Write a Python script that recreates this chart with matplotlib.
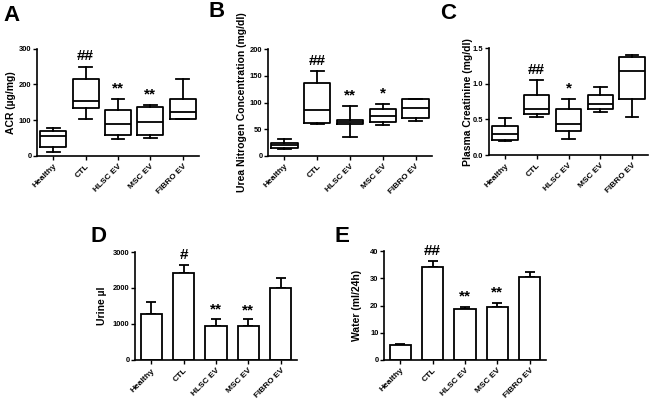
import matplotlib
matplotlib.use("Agg")
import matplotlib.pyplot as plt

plt.rcParams.update({"font.family": ["Liberation Sans", "DejaVu Sans"],
                     "font.weight": "bold", "axes.linewidth": 1.2})

groups = ["Healthy", "CTL", "HLSC EV", "MSC EV", "FIBRO EV"]

# box stats: whisker low, Q1, median, Q3, whisker high
acr_lo = [9, 103, 46, 51, 103]
acr_q1 = [24, 135, 58, 58, 103]
acr_med = [55, 153, 89, 94, 123]
acr_q3 = [69, 215, 128, 136, 158]
acr_hi = [78, 250, 159, 141, 214]

bun_lo = [12.6, 59, 35, 57, 66]
bun_q1 = [15, 62, 59, 64, 70]
bun_med = [19.5, 85, 64, 75, 90]
bun_q3 = [24.4, 137, 68, 87, 107]
bun_hi = [31, 159, 94, 97, 107]

cre_lo = [0.20, 0.53, 0.22, 0.60, 0.54]
cre_q1 = [0.21, 0.58, 0.34, 0.64, 0.79]
cre_med = [0.30, 0.65, 0.43, 0.72, 1.18]
cre_q3 = [0.41, 0.85, 0.64, 0.85, 1.38]
cre_hi = [0.52, 1.05, 0.79, 0.95, 1.40]

urine_mean = [1270, 2410, 940, 940, 2000]
urine_err = [350, 240, 210, 190, 290]

water_mean = [5.4, 34.1, 18.6, 19.3, 30.5]
water_err = [0.5, 2.2, 1.0, 1.7, 1.7]

acr_marks = ["", "##", "**", "**", ""]
bun_marks = ["", "##", "**", "*", ""]
cre_marks = ["", "##", "*", "", ""]
urine_marks = ["", "#", "**", "**", ""]
water_marks = ["", "##", "**", "**", ""]

W, H = 656, 401
fig = plt.figure(figsize=(W / 100, H / 100), dpi=100)


def add_axes(left, top, right, bottom):
    return fig.add_axes([left / W, 1 - bottom / H, (right - left) / W, (bottom - top) / H])


def style(ax, ymax, yticks, ylabel, letter, lx, ly, labx):
    ax.set_xlim(-0.5, 4.5)
    ax.set_ylim(0, ymax)
    ax.set_yticks(yticks)
    ax.set_xticks(range(5))
    ax.set_xticklabels(groups, rotation=45, ha="right", rotation_mode="anchor",
                       fontsize=6, fontweight="bold")
    ax.tick_params(axis="y", labelsize=5.4, length=3, width=1.0, pad=1)
    ax.tick_params(axis="x", length=3, width=1.0, pad=2)
    for s in ["top", "right"]:
        ax.spines[s].set_visible(False)
    ax.set_ylabel(ylabel, fontsize=7.5, fontweight="bold")
    ax.yaxis.set_label_coords(labx, 0.5)
    fig.text(lx / W, 1 - ly / H, letter, fontsize=16, fontweight="bold",
             ha="left", va="top")


def marks(ax, xs, ys, labels, fs=11):
    for x, y, t in zip(xs, ys, labels):
        if t:
            ax.annotate(t, (x, y), xytext=(0, 0.5), textcoords="offset points",
                        ha="center", va="bottom", fontsize=fs, fontweight="bold",
                        annotation_clip=False)


def boxes(ax, lo, q1, med, q3, hi):
    stats = [{"whislo": a, "q1": b, "med": c, "q3": d, "whishi": e, "fliers": []}
             for a, b, c, d, e in zip(lo, q1, med, q3, hi)]
    lp = dict(color="black", linewidth=1.3)
    ax.bxp(stats, positions=range(5), widths=0.8, showfliers=False,
           boxprops=lp, whiskerprops=lp, capprops=lp, medianprops=lp,
           manage_ticks=False)


def bars(ax, mean, err):
    ax.bar(range(5), mean, width=0.66, color="white", edgecolor="black", linewidth=1.3,
           zorder=2)
    ax.errorbar(range(5), mean, yerr=[[0] * 5, err], fmt="none", ecolor="black",
                elinewidth=1.3, capsize=3.5, capthick=1.3, zorder=1)


# A
ax = add_axes(37, 48.7, 199, 155.7)
boxes(ax, acr_lo, acr_q1, acr_med, acr_q3, acr_hi)
style(ax, 300, [0, 100, 200, 300], "ACR (µg/mg)", "A", 3, 5, -0.13)
marks(ax, range(5), [v + 8 for v in acr_hi], acr_marks)

# B
ax = add_axes(268, 49.3, 432, 155.7)
boxes(ax, bun_lo, bun_q1, bun_med, bun_q3, bun_hi)
style(ax, 200, [0, 50, 100, 150, 200], "Urea Nitrogen Concentration (mg/dl)", "B",
      208, 1, -0.128)
marks(ax, range(5), [v + 5 for v in bun_hi], bun_marks)

# C
ax = add_axes(489, 48.3, 648, 155)
boxes(ax, cre_lo, cre_q1, cre_med, cre_q3, cre_hi)
style(ax, 1.5, [0.0, 0.5, 1.0, 1.5], "Plasma Creatinine (mg/dl)", "C", 440, 3, -0.1)
ax.set_yticklabels(["0.0", "0.5", "1.0", "1.5"])
marks(ax, range(5), [v + 0.04 for v in cre_hi], cre_marks)

# D
ax = add_axes(135, 252, 297, 360)
bars(ax, urine_mean, urine_err)
style(ax, 3000, [0, 1000, 2000, 3000], "Urine µl", "D", 90, 226, -0.17)
marks(ax, range(5), [m + e + 40 for m, e in zip(urine_mean, urine_err)], urine_marks)

# E
ax = add_axes(384, 251.3, 546, 359.7)
bars(ax, water_mean, water_err)
style(ax, 40, [0, 10, 20, 30, 40], "Water (ml/24h)", "E", 335, 226, -0.136)
marks(ax, range(5), [m + e + 0.8 for m, e in zip(water_mean, water_err)], water_marks)

fig.savefig("out.png", dpi=100)
